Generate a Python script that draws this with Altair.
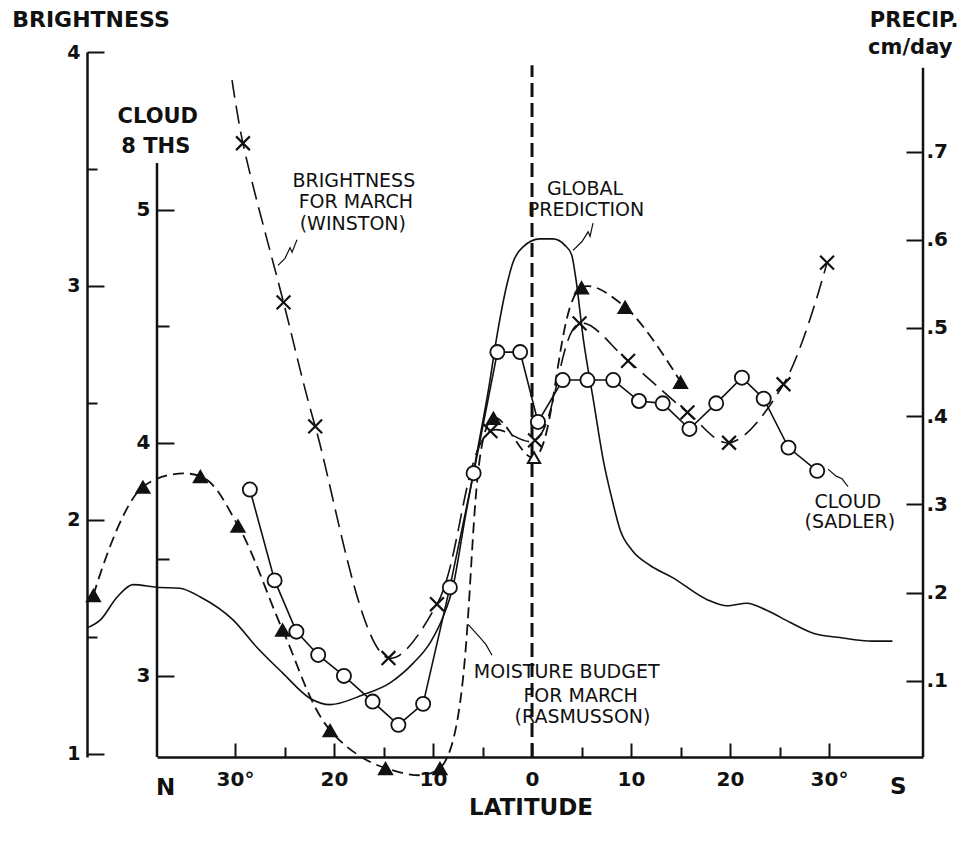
import altair as alt
import pandas as pd

# Latitude in degrees: negative = north, positive = south (north on the left)

# Brightness for March (Winston), brightness units; first point is the curve start
bright_lat = [-30.3, -29.2, -25.1, -21.9, -14.5, -9.6, -4.2, 0.3, 4.8, 9.7, 15.7, 19.9, 25.4, 29.8]
bright_val = [3.88, 3.61, 2.93, 2.40, 1.41, 1.64, 2.38, 2.34, 2.84, 2.68, 2.46, 2.33, 2.58, 3.10]

# Moisture budget for March (Rasmusson), cm/day
moist_lat = [-44.3, -39.3, -33.5, -29.7, -25.2, -20.4, -14.8, -9.3, -3.9, 0.2, 5.0, 9.4, 15.0]
moist_val = [0.197, 0.320, 0.332, 0.276, 0.158, 0.044, 0.001, 0.001, 0.398, 0.353, 0.546, 0.524, 0.439]
moist_open = [False, False, False, False, False, False, False, False, False, True, False, False, False]

# Cloud (Sadler), eighths
cloud_lat = [-28.5, -26.0, -23.8, -21.6, -19.0, -16.1, -13.5, -11.0, -8.3, -5.9, -3.5, -1.2,
             0.6, 3.1, 5.6, 8.2, 10.8, 13.2, 15.9, 18.6, 21.2, 23.4, 25.9, 28.8]
cloud_val = [3.80, 3.41, 3.19, 3.09, 3.00, 2.89, 2.79, 2.88, 3.38, 3.87, 4.39, 4.39,
             4.09, 4.27, 4.27, 4.27, 4.18, 4.17, 4.06, 4.17, 4.28, 4.19, 3.98, 3.88]

# Global prediction, cm/day
glob_lat = [-44.95, -43.6, -41.9, -40.3, -37.9, -35.6, -33.5, -30.2, -27.8, -25.2, -22.4, -20.4,
            -17.1, -14.3, -12.0, -10.3, -9.0, -8.0, -6.8, -5.6, -4.4, -3.5, -2.5, -1.9, -0.9,
            0.8, 2.1, 3.3, 4.0, 4.4, 5.2, 6.2, 7.2, 8.1, 8.9, 10.1, 11.9, 14.2, 17.7, 19.7,
            21.7, 23.7, 26.1, 28.4, 31.1, 34.4, 36.4]
glob_val = [0.160, 0.169, 0.195, 0.209, 0.206, 0.205, 0.195, 0.169, 0.138, 0.109, 0.080, 0.073,
            0.084, 0.098, 0.120, 0.143, 0.172, 0.206, 0.282, 0.356, 0.430, 0.494, 0.551, 0.575, 0.592,
            0.601, 0.601, 0.594, 0.583, 0.558, 0.486, 0.418, 0.350, 0.305, 0.271, 0.248, 0.231, 0.217,
            0.192, 0.185, 0.188, 0.180, 0.166, 0.154, 0.149, 0.145, 0.145]

# Tick values
lat_ticks = [-30, -25, -20, -15, -10, -5, 0, 5, 10, 15, 20, 25, 30]
lat_labels = [-30, -20, -10, 0, 10, 20, 30]
bright_ticks = [1, 1.5, 2, 2.5, 3, 3.5, 4]
bright_labels = [1, 2, 3, 4]
cloud_ticks = [3, 3.5, 4, 4.5, 5]
cloud_labels = [3, 4, 5]
precip_ticks = [0.1, 0.2, 0.3, 0.4, 0.5, 0.6, 0.7]

# Curve captions (cm/day coordinates)
note_text = ["BRIGHTNESS", "FOR MARCH", "(WINSTON)", "GLOBAL", "PREDICTION",
             "MOISTURE BUDGET", "FOR MARCH", "(RASMUSSON)", "CLOUD", "(SADLER)"]
note_lat = [-18.0, -17.8, -18.1, 5.35, 5.45, 3.5, 4.9, 5.1, 31.9, 32.1]
note_val = [0.660, 0.636, 0.611, 0.651, 0.627, 0.103, 0.076, 0.052, 0.296, 0.273]

# Axis titles and hemisphere letters
title_text = ["BRIGHTNESS", "CLOUD", "8 THS", "PRECIP.", "cm/day", "LATITUDE", "N", "S"]
title_lat = [-44.55, -37.8, -38.0, 38.6, 38.2, -0.1, -37.0, 37.0]
title_val = [0.841, 0.732, 0.698, 0.841, 0.811, -0.052, -0.029, -0.028]
title_size = [22, 21, 21, 21, 21, 23, 23, 23]

# Leader strokes from captions to their curves
lead_id = [0, 0, 0, 0, 0, 1, 1, 1, 1, 1, 2, 2, 2, 2, 3, 3, 3, 3]
lead_lat = [-23.74, -24.44, -24.24, -24.95, -25.66, 6.16, 5.66, 5.86, 5.05, 4.14,
            -4.04, -4.65, -5.25, -6.46, 31.92, 31.31, 30.71, 29.90]
lead_val = [0.600, 0.591, 0.586, 0.579, 0.571, 0.619, 0.609, 0.604, 0.598, 0.588,
            0.129, 0.141, 0.149, 0.164, 0.320, 0.329, 0.332, 0.340]

FONT = "DejaVu Sans"
INK = "#111111"
W, H = 766, 705
X_DOMAIN = [-37.88, 39.49]
BRIGHT_DOMAIN = [0.987, 4.0]
CLOUD_DOMAIN = [2.652, 5.678]
PRECIP_DOMAIN = [0.0136, 0.8129]

bright_df = pd.DataFrame({"lat": bright_lat, "v": bright_val})
bright_pts = bright_df.iloc[1:]
moist_df = pd.DataFrame({"lat": moist_lat, "v": moist_val, "open": moist_open})
cloud_df = pd.DataFrame({"lat": cloud_lat, "v": cloud_val})
glob_df = pd.DataFrame({"lat": glob_lat, "v": glob_val})
note_df = pd.DataFrame({"lat": note_lat, "v": note_val, "t": note_text})
title_df = pd.DataFrame({"lat": title_lat, "v": title_val, "t": title_text, "s": title_size})
lead_df = pd.DataFrame({"id": lead_id, "lat": lead_lat, "v": lead_val})
frame_df = pd.DataFrame({"lat": [X_DOMAIN[0], X_DOMAIN[1]], "v": [0.0136, 0.0136], "v2": [0.687, 0.795]})
equator_df = pd.DataFrame({"lat": [0.0], "v": [0.0136], "v2": [0.798]})


def xenc(axis=None):
    return alt.X("lat:Q", scale=alt.Scale(domain=X_DOMAIN, nice=False, zero=False), axis=axis)


def yenc(domain, axis=None, field="v"):
    return alt.Y(f"{field}:Q", scale=alt.Scale(domain=domain, nice=False, zero=False), axis=axis)


def label_axis(orient, values, offset=0, pad=6, expr=None, fmt=None, size=19):
    kw = dict(orient=orient, values=values, offset=offset, ticks=False, tickSize=0,
              domain=False, grid=False, title=None, labelFont=FONT, labelFontSize=size,
              labelFontWeight="bold", labelColor=INK, labelPadding=pad)
    if expr:
        kw["labelExpr"] = expr
    if fmt:
        kw["format"] = fmt
    return alt.Axis(**kw)


def tick_axis(orient, values, offset, major_test, major, minor, domain=False):
    return alt.Axis(orient=orient, values=values, offset=offset, labels=False, grid=False,
                    title=None, domain=domain, domainColor=INK, domainWidth=2.5,
                    tickColor=INK, tickWidth=2,
                    tickSize={"condition": {"test": major_test, "value": major}, "value": minor})


x_labels = label_axis("bottom", lat_labels, pad=12, size=20,
                      expr="abs(datum.value) == 30 ? '30°' : format(abs(datum.value), 'd')")
x_ticks = tick_axis("top", lat_ticks, -H, "datum.value % 10 === 0", 14, 10, domain=True)

bright_label_axis = alt.Axis(orient="left", values=bright_labels, offset=70, ticks=False, tickSize=0,
                             domain=True, domainColor=INK, domainWidth=2.5, grid=False, title=None,
                             format="d", labelFont=FONT, labelFontSize=19, labelFontWeight="bold",
                             labelColor=INK, labelPadding=7)
bright_tick_axis = tick_axis("right", bright_ticks, -(W + 70), "datum.value % 1 === 0", 17, 10)
cloud_label_axis = label_axis("left", cloud_labels, pad=7, fmt="d", size=20)
cloud_tick_axis = tick_axis("right", cloud_ticks, -W, "datum.value % 1 === 0", 17, 12)
precip_label_axis = label_axis("right", precip_ticks, pad=3, size=20,
                               expr="replace(format(datum.value, '.1f'), '0.', '.')")
precip_tick_axis = tick_axis("left", precip_ticks, -W, "true", 17, 17)

# Global prediction: thin solid curve
glob_line = alt.Chart(glob_df).mark_line(
    color=INK, strokeWidth=1.6, interpolate="monotone"
).encode(x=xenc(x_labels), y=yenc(PRECIP_DOMAIN, precip_label_axis))

# Brightness: long dashes
bright_line = alt.Chart(bright_df).mark_line(
    color=INK, strokeWidth=1.6, strokeDash=[18, 8], interpolate="catmull-rom"
).encode(x=xenc(x_ticks), y=yenc(BRIGHT_DOMAIN, bright_label_axis))

# Moisture budget: short dashes
moist_line = alt.Chart(moist_df).mark_line(
    color=INK, strokeWidth=1.8, strokeDash=[11, 6], interpolate="catmull-rom"
).encode(x=xenc(), y=yenc(PRECIP_DOMAIN, precip_tick_axis))

# Cloud: solid polyline
cloud_line = alt.Chart(cloud_df).mark_line(
    color=INK, strokeWidth=1.6
).encode(x=xenc(), y=yenc(CLOUD_DOMAIN, cloud_label_axis))

bright_marks = alt.Chart(bright_pts).mark_point(
    shape="M-1,-1L1,1M1,-1L-1,1", size=190, strokeWidth=2.2, color=INK, filled=False, opacity=1
).encode(x=xenc(), y=yenc(BRIGHT_DOMAIN, bright_tick_axis))

cloud_marks = alt.Chart(cloud_df).mark_point(
    shape="circle", size=200, filled=True, fill="white", stroke=INK, strokeWidth=1.8, opacity=1
).encode(x=xenc(), y=yenc(CLOUD_DOMAIN, cloud_tick_axis))

moist_marks = alt.Chart(moist_df).transform_filter("!datum.open").mark_point(
    shape="triangle-up", size=270, filled=True, color=INK, opacity=1
).encode(x=xenc(), y=yenc(PRECIP_DOMAIN))

moist_open_marks = alt.Chart(moist_df).transform_filter("datum.open").mark_point(
    shape="triangle-up", size=150, filled=True, fill="white", stroke=INK, strokeWidth=2, opacity=1
).encode(x=xenc(), y=yenc(PRECIP_DOMAIN))

# Cloud axis line and right-hand precipitation axis line
frame = alt.Chart(frame_df).mark_rule(color=INK, strokeWidth=2.5).encode(
    x=xenc(), y=yenc(PRECIP_DOMAIN), y2="v2:Q")

equator = alt.Chart(equator_df).mark_rule(color=INK, strokeWidth=3, strokeDash=[14, 6]).encode(
    x=xenc(), y=yenc(PRECIP_DOMAIN), y2="v2:Q")

leaders = alt.Chart(lead_df).mark_line(color=INK, strokeWidth=1.2).encode(
    x=xenc(), y=yenc(PRECIP_DOMAIN), detail="id:N")

notes = alt.Chart(note_df).mark_text(
    font=FONT, fontSize=19, color=INK, align="center", baseline="alphabetic"
).encode(x=xenc(), y=yenc(PRECIP_DOMAIN), text="t:N")

titles = alt.Chart(title_df).mark_text(
    font=FONT, fontWeight="bold", color=INK, align="center", baseline="alphabetic"
).encode(x=xenc(), y=yenc(PRECIP_DOMAIN), text="t:N", size=alt.Size("s:Q", scale=None, legend=None))

chart = alt.layer(
    glob_line, bright_line, moist_line, cloud_line, frame, equator, leaders,
    bright_marks, cloud_marks, moist_marks, moist_open_marks, notes, titles
).resolve_scale(
    y="independent"
).resolve_axis(
    x="independent", y="independent"
).properties(
    width=W, height=H,
    autosize=alt.AutoSizeParams(type="none"),
    padding={"left": 157, "top": 52, "right": 50, "bottom": 84},
    background="white"
).configure_view(stroke=None)

chart.save("out.html", embed_options={"renderer": "svg", "actions": False})
